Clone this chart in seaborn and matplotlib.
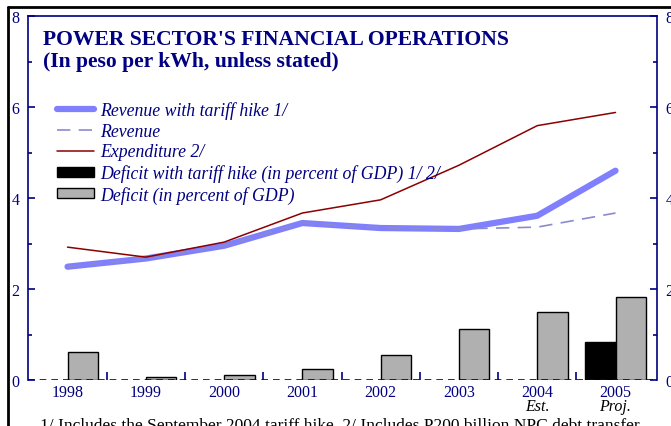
import numpy as np
import pandas as pd
import matplotlib
matplotlib.use("Agg")
import matplotlib.pyplot as plt
import seaborn as sns
from matplotlib.lines import Line2D
from matplotlib.patches import Patch

# Data
years = ["1998", "1999", "2000", "2001", "2002", "2003", "2004", "2005"]
revenue_hike = [2.49, 2.67, 2.95, 3.45, 3.34, 3.32, 3.61, 4.60]
revenue = [2.49, 2.67, 2.95, 3.45, 3.34, 3.32, 3.36, 3.67]
expenditure = [2.92, 2.70, 3.03, 3.67, 3.96, 4.72, 5.59, 5.88]
deficit = [0.62, 0.06, 0.11, 0.24, 0.56, 1.12, 1.49, 1.82]
deficit_hike = [np.nan, np.nan, np.nan, np.nan, np.nan, np.nan, np.nan, 0.84]
sub_labels = ["", "", "", "", "", "", "Est.", "Proj."]

lbl_hike = "Revenue with tariff hike 1/"
lbl_rev = "Revenue"
lbl_exp = "Expenditure 2/"
lbl_dhike = "Deficit with tariff hike (in percent of GDP) 1/ 2/"
lbl_def = "Deficit (in percent of GDP)"

navy = "#000080"
serif = "Liberation Serif"

sns.set_style("white")
plt.rcParams["font.family"] = [serif, "DejaVu Serif"]

W, H = 671, 427
fig = plt.figure(figsize=(W / 100, H / 100), dpi=100)
ax = fig.add_axes([28 / W, 1 - 381 / H, (657 - 28) / W, (381 - 17) / H])

# bars
bars = pd.DataFrame({
    "year": years * 2,
    "series": [lbl_dhike] * len(years) + [lbl_def] * len(years),
    "value": deficit_hike + deficit,
})
sns.barplot(data=bars, x="year", y="value", hue="series", order=years,
            hue_order=[lbl_dhike, lbl_def], palette=["#000000", "#b0b0b0"],
            width=0.78, edgecolor="black", linewidth=1.0, saturation=1,
            legend=False, ax=ax, zorder=2)

pos = np.arange(len(years))
sns.lineplot(x=pos, y=revenue_hike, color="#8080ff", lw=4.5, ax=ax, zorder=3)
sns.lineplot(x=pos, y=revenue, color="#8a8ad0", lw=1.2, ax=ax, zorder=4,
             dashes=False).lines[-1].set_dashes([8, 5])
sns.lineplot(x=pos, y=expenditure, color="#8b0000", lw=1.1, ax=ax, zorder=5)

ax.axhline(0, color=navy, lw=1.2, ls=(0, (4, 3)), zorder=6)

ax.set_xlim(-0.505, 7.53)
ax.set_ylim(0, 8)
ax.set_xlabel("")
ax.set_ylabel("")

ax.set_xticks(pos)
ax.set_xticklabels(years, color=navy, fontsize=11.5)
ax.set_xticks(pos[:-1] + 0.5, minor=True)
ax.tick_params(axis="x", which="major", length=0, pad=3)
ax.tick_params(axis="x", which="minor", direction="in", length=6,
               color=navy, width=1.2, bottom=True, top=False)

ax.set_yticks([0, 2, 4, 6, 8])
ax.set_yticks([1, 3, 5, 7], minor=True)
ax.tick_params(axis="y", which="both", direction="in", color=navy, width=1.2,
               left=True, right=True, labelleft=True, labelright=True,
               labelsize=11.5, labelcolor=navy, pad=6)
ax.tick_params(axis="y", which="major", length=5)
ax.tick_params(axis="y", which="minor", length=3)

for side in ["left", "right", "top"]:
    ax.spines[side].set_color(navy)
    ax.spines[side].set_linewidth(1.2)
ax.spines["bottom"].set_visible(False)

for i, s in enumerate(sub_labels):
    if s:
        ax.text(i, -0.071, s, transform=ax.get_xaxis_transform(), ha="center",
                va="center", style="italic", fontsize=11.5, color="black")

# titles
fig.text(43 / W, 1 - 45 / H, "POWER SECTOR'S FINANCIAL OPERATIONS",
         fontsize=15.6, fontweight="bold", color=navy, va="baseline")
fig.text(43 / W, 1 - 67 / H, "(In peso per kWh, unless stated)",
         fontsize=15.6, fontweight="bold", color=navy, va="baseline")

handles = [
    Line2D([], [], color="#8080ff", lw=4.5),
    Line2D([], [], color="#8a8ad0", lw=1.2, dashes=[8, 5]),
    Line2D([], [], color="#8b0000", lw=1.1),
    Patch(facecolor="black", edgecolor="black"),
    Patch(facecolor="#b0b0b0", edgecolor="black", lw=1.0),
]
leg = fig.legend(handles, [lbl_hike, lbl_rev, lbl_exp, lbl_dhike, lbl_def],
                 loc="upper left", bbox_to_anchor=(57 / W, 1 - 102 / H),
                 frameon=False, borderpad=0, borderaxespad=0,
                 handlelength=2.1, handletextpad=0.35, handleheight=0.5,
                 labelspacing=0.21, prop={"family": serif, "style": "italic", "size": 12.8})
for t in leg.get_texts():
    t.set_color(navy)

fig.text(40 / W, -0.006, "1/ Includes the September 2004 tariff hike. 2/ Includes P200 billion NPC debt transfer.",
         fontsize=12.5, color="black", va="baseline")

# outer frame
fig.add_artist(Line2D([8 / W, 8 / W], [0, 1 - 8 / H], color="black", lw=2,
                      transform=fig.transFigure))
fig.add_artist(Line2D([8 / W, 1], [1 - 8 / H, 1 - 8 / H], color="black", lw=2,
                      transform=fig.transFigure))

fig.savefig("out.png", dpi=100)
